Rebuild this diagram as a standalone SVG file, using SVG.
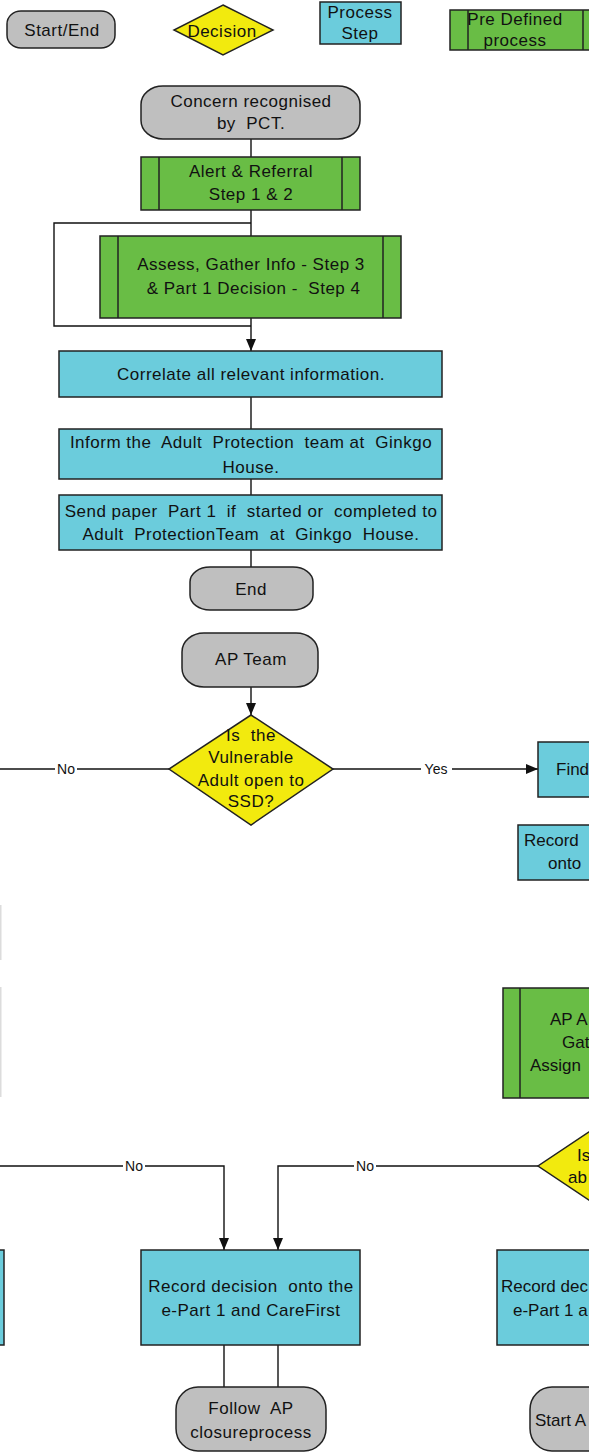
<svg xmlns="http://www.w3.org/2000/svg" width="589" height="1452" viewBox="0 0 589 1452">
<defs>
<style>
.term{fill:#bfbfbf;stroke:#222;stroke-width:1.5}
.dec{fill:#f2ea0e;stroke:#222;stroke-width:1.5}
.proc{fill:#6bccdc;stroke:#222;stroke-width:1.5}
.pre{fill:#69bd45;stroke:#222;stroke-width:1.5}
.inner{stroke:#222;stroke-width:1.5;fill:none}
.conn{fill:none;stroke:#111;stroke-width:1.4}
.faint{fill:none;stroke:#dcdcdc;stroke-width:1.5}
text{font-family:"Liberation Sans",Arial,sans-serif;font-size:17px;fill:#111;text-anchor:middle;letter-spacing:0.5px;white-space:pre}
.st{text-anchor:start;letter-spacing:0}
.lbl{font-size:14px;letter-spacing:0}
.bg{fill:#fff}
</style>
<marker id="arr" viewBox="0 0 12 10" refX="12" refY="5" markerWidth="12" markerHeight="10" markerUnits="userSpaceOnUse" orient="auto">
<path d="M0,0 L12,5 L0,10 Z" fill="#111"/>
</marker>
</defs>
<rect width="589" height="1452" fill="#fff"/>

<g id="connectors">
<path class="conn" d="M251,139 V157"/>
<path class="conn" d="M251,210 V236"/>
<path class="conn" d="M251,223 H54 V326 H251"/>
<path class="conn" d="M251,318 V351" marker-end="url(#arr)"/>
<path class="conn" d="M251,397 V429"/>
<path class="conn" d="M251,479 V495"/>
<path class="conn" d="M251,550 V567"/>
<path class="conn" d="M251,687 V715" marker-end="url(#arr)"/>
<path class="conn" d="M169,769 H0"/>
<path class="conn" d="M333,769 H538" marker-end="url(#arr)"/>
<path class="conn" d="M538,1166 H278 V1250" marker-end="url(#arr)"/>
<path class="conn" d="M0,1166 H224 V1250" marker-end="url(#arr)"/>
<path class="conn" d="M224,1345 V1387"/>
<path class="conn" d="M278,1345 V1387"/>
<rect class="bg" x="55" y="760" width="22" height="18"/>
<text class="lbl" x="66" y="774">No</text>
<rect class="bg" x="421" y="760" width="31" height="18"/>
<text class="lbl" x="436" y="774">Yes</text>
<rect class="bg" x="354" y="1157" width="22" height="18"/>
<text class="lbl" x="365" y="1171">No</text>
<rect class="bg" x="123" y="1157" width="22" height="18"/>
<text class="lbl" x="134" y="1171">No</text>
</g>

<g id="legend-start-end">
<path class="term" d="M21,11 H101 C108.7,11 115,16.5 115,24 V35 C115,42.5 108.7,48 101,48 H21 C13.3,48 7,42.5 7,35 V24 C7,16.5 13.3,11 21,11 Z"/>
<text x="62" y="36">Start/End</text>
</g>
<g id="legend-decision">
<polygon class="dec" points="223,5 273,30 223,55 174,30"/>
<text x="222" y="37">Decision</text>
</g>
<g id="legend-process">
<rect class="proc" x="320" y="2" width="81" height="42"/>
<text x="360" y="18">Process</text>
<text x="360" y="39">Step</text>
</g>
<g id="legend-predefined">
<rect class="pre" x="450" y="10" width="160" height="40"/>
<path class="inner" d="M468,10 V50 M583,10 V50"/>
<text x="515" y="25">Pre Defined</text>
<text x="515" y="46">process</text>
</g>

<g id="concern">
<path class="term" d="M163,86 H338 C350.1,86 360,94 360,104.5 V120.5 C360,131 350.1,139 338,139 H163 C150.9,139 141,131 141,120.5 V104.5 C141,94 150.9,86 163,86 Z"/>
<text x="251" y="107">Concern recognised</text>
<text x="251" y="129">by  PCT.</text>
</g>
<g id="alert">
<rect class="pre" x="141" y="157" width="219" height="53"/>
<path class="inner" d="M159,157 V210 M342,157 V210"/>
<text x="251" y="177">Alert &amp; Referral</text>
<text x="251" y="200">Step 1 &amp; 2</text>
</g>
<g id="assess">
<rect class="pre" x="100" y="236" width="301" height="82"/>
<path class="inner" d="M118,236 V318 M383,236 V318"/>
<text x="251" y="270">Assess, Gather Info - Step 3</text>
<text x="251" y="294"> &amp; Part 1 Decision -  Step 4</text>
</g>
<g id="correlate">
<rect class="proc" x="59" y="351" width="383" height="46"/>
<text x="251" y="380">Correlate all relevant information.</text>
</g>
<g id="inform">
<rect class="proc" x="59" y="429" width="383" height="50"/>
<text x="251" y="448">Inform the  Adult  Protection  team at  Ginkgo</text>
<text x="251" y="473">House.</text>
</g>
<g id="send">
<rect class="proc" x="59" y="495" width="383" height="55"/>
<text x="251" y="517">Send paper  Part 1  if  started or  completed to</text>
<text x="251" y="540">Adult  ProtectionTeam  at  Ginkgo  House.</text>
</g>
<g id="end">
<path class="term" d="M210,567 H293 C304,567 313,573.5 313,582 V595 C313,603.5 304,610 293,610 H210 C199,610 190,603.5 190,595 V582 C190,573.5 199,567 210,567 Z"/>
<text x="251" y="595">End</text>
</g>

<g id="ap-team">
<path class="term" d="M204,633 H296 C308,633 318,641 318,652 V668 C318,679 308,687 296,687 H204 C192,687 182,679 182,668 V652 C182,641 192,633 204,633 Z"/>
<text x="251" y="665">AP Team</text>
</g>
<g id="open-to-ssd">
<polygon class="dec" points="251,715 333,769 251,825 169,769"/>
<text x="251" y="741">Is  the</text>
<text x="251" y="763">Vulnerable</text>
<text x="251" y="786">Adult open to</text>
<text x="251" y="807">SSD?</text>
</g>
<g id="find">
<rect class="proc" x="538" y="742" width="80" height="55"/>
<text class="st" x="556" y="775">Find</text>
</g>
<g id="record-onto">
<rect class="proc" x="518" y="825" width="100" height="55"/>
<text class="st" x="524" y="846">Record</text>
<text class="st" x="548" y="869">onto</text>
</g>
<g id="faint-edges">
<path class="faint" d="M0.75,905 V960 M0.75,987 V1097"/>
</g>
<g id="ap-assign">
<rect class="pre" x="503" y="988" width="120" height="110"/>
<path class="inner" d="M520,988 V1098"/>
<text class="st" x="550" y="1025">AP A</text>
<text class="st" x="562" y="1048">Gat</text>
<text class="st" x="530" y="1071">Assign</text>
</g>
<g id="right-decision">
<polygon class="dec" points="620,1111 702,1166 620,1221 538,1166"/>
<text class="st" x="577" y="1161">Is</text>
<text class="st" x="568" y="1183">ab</text>
</g>
<g id="left-box">
<rect class="proc" x="-100" y="1250" width="104" height="95"/>
</g>
<g id="record-carefirst">
<rect class="proc" x="141" y="1250" width="219" height="95"/>
<text x="251" y="1292">Record decision  onto the</text>
<text x="251" y="1316">e-Part 1 and CareFirst</text>
</g>
<g id="right-record">
<rect class="proc" x="497" y="1250" width="219" height="95"/>
<text class="st" x="501" y="1292">Record dec</text>
<text class="st" x="513" y="1316">e-Part 1 a</text>
</g>
<g id="follow-ap">
<path class="term" d="M198,1387 H304 C316,1387 326,1396.6 326,1409.5 V1428.5 C326,1441.4 316,1451 304,1451 H198 C186,1451 176,1441.4 176,1428.5 V1409.5 C176,1396.6 186,1387 198,1387 Z"/>
<text x="251" y="1414">Follow  AP</text>
<text x="251" y="1438">closureprocess</text>
</g>
<g id="start-a">
<path class="term" d="M552,1387 H658 C670,1387 680,1396.6 680,1409.5 V1428.5 C680,1441.4 670,1451 658,1451 H552 C540,1451 530,1441.4 530,1428.5 V1409.5 C530,1396.6 540,1387 552,1387 Z"/>
<text class="st" x="535" y="1426">Start A</text>
</g>
</svg>
